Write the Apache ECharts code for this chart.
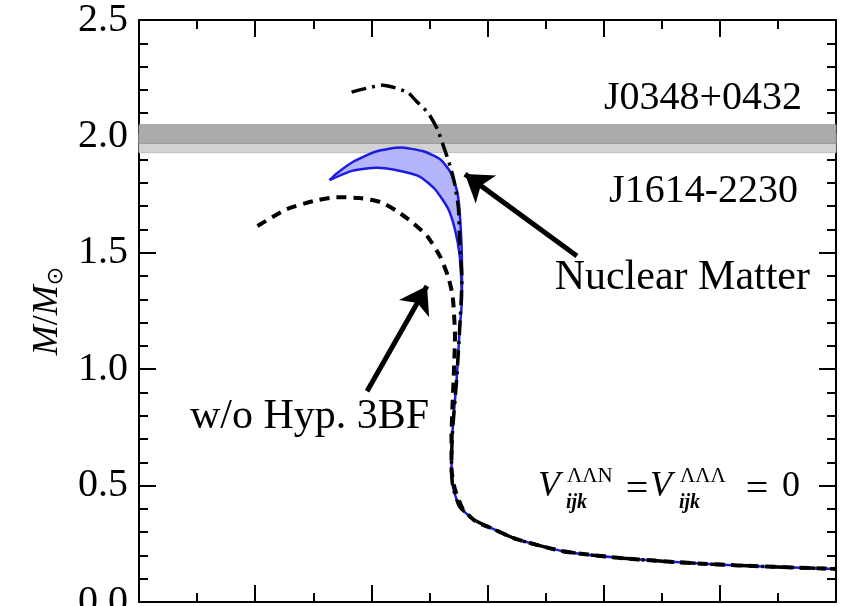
<!DOCTYPE html>
<html><head><meta charset="utf-8">
<script src="https://cdn.jsdelivr.net/npm/echarts@6/dist/echarts.min.js"></script>
<style>html,body{margin:0;padding:0;background:#fff}#c{width:843px;height:606px}</style>
</head><body><div id="c"></div>
<script>
// Radius R (km) and mass M (M_sun)
const nuclearR = [10.83, 11.10, 11.31, 11.39, 11.49, 11.57, 11.62, 11.68, 11.72, 11.75, 11.76, 11.78, 11.76, 11.735, 11.70, 11.69, 11.70, 11.76, 11.88, 12.02, 12.25, 12.65, 13.08, 13.51, 13.94, 14.37, 14.89, 15.0];
const nuclearM = [2.19, 2.22, 2.19, 2.15, 2.10, 2.03, 1.96, 1.87, 1.79, 1.69, 1.55, 1.39, 1.17, 0.96, 0.74, 0.60, 0.50, 0.41, 0.355, 0.32, 0.27, 0.218, 0.192, 0.175, 0.162, 0.153, 0.144, 0.142];

const woR = [10.02, 10.27, 10.50, 10.70, 10.90, 11.08, 11.22, 11.35, 11.48, 11.59, 11.66, 11.70, 11.72, 11.70, 11.69, 11.69, 11.72, 11.79, 11.91, 12.02, 12.25, 12.65, 13.08, 13.51, 13.94, 14.37, 14.89, 15.0];
const woM = [1.615, 1.687, 1.722, 1.739, 1.735, 1.718, 1.679, 1.632, 1.572, 1.486, 1.40, 1.314, 1.142, 0.858, 0.712, 0.570, 0.484, 0.398, 0.342, 0.32, 0.27, 0.218, 0.192, 0.175, 0.162, 0.153, 0.144, 0.142];

const hypUpR = [10.64, 10.70, 10.84, 11.04, 11.25, 11.44, 11.59, 11.68, 11.74, 11.765, 11.78, 11.78];
const hypUpM = [1.812, 1.84, 1.89, 1.935, 1.952, 1.937, 1.903, 1.847, 1.761, 1.645, 1.45, 1.30];
const hypLowR = [10.64, 10.84, 11.05, 11.25, 11.42, 11.55, 11.66, 11.72, 11.76, 11.775, 11.78];
const hypLowM = [1.812, 1.853, 1.865, 1.851, 1.826, 1.772, 1.69, 1.60, 1.49, 1.38, 1.30];
const hypTailR = [11.78, 11.76, 11.735, 11.70, 11.69, 11.70, 11.76, 11.88, 12.02, 12.25, 12.65, 13.08, 13.51, 13.94, 14.37, 14.89, 15.0];
const hypTailM = [1.30, 1.17, 0.96, 0.74, 0.60, 0.50, 0.41, 0.355, 0.32, 0.27, 0.218, 0.192, 0.175, 0.162, 0.153, 0.144, 0.142];

const bandJ0348 = [1.97, 2.05];
const bandJ1614 = [1.93, 2.01];

const yTicks = [0.0, 0.5, 1.0, 1.5, 2.0, 2.5];

const pairs = (xs, ys) => xs.map((x, i) => [x, ys[i]]);
const upper = pairs(hypUpR, hypUpM);
const lower = pairs(hypLowR, hypLowM);
const tail = pairs(hypTailR, hypTailM);

const chart = echarts.init(document.getElementById('c'), null, {renderer: 'canvas'});
const SERIF = "'Liberation Serif', 'Times New Roman', serif";
const tickStyle = {color: '#000', width: 2};
function xAxisDef(pos) {
  return {
    type: 'value', position: pos, min: 9, max: 15, interval: 1,
    axisLine: {show: true, onZero: false, lineStyle: tickStyle},
    axisTick: {show: true, inside: true, length: 17, lineStyle: tickStyle},
    minorTick: {show: true, splitNumber: 2, length: 9, lineStyle: tickStyle},
    axisLabel: {show: false}, splitLine: {show: false}, minorSplitLine: {show: false}
  };
}
function yAxisDef(pos) {
  return {
    type: 'value', position: pos, min: yTicks[0], max: yTicks[yTicks.length - 1], interval: 0.5,
    axisLine: {show: true, onZero: false, lineStyle: tickStyle},
    axisTick: {show: true, inside: true, length: 17, lineStyle: tickStyle},
    minorTick: {show: true, splitNumber: 5, length: 9, lineStyle: tickStyle},
    splitLine: {show: false}, minorSplitLine: {show: false}
  };
}

const textEl = (txt, x, y, font, align) => ({
  type: 'text', x: x, y: y, z: 100,
  style: {text: txt, font: font, fill: '#000', align: align, verticalAlign: 'middle'}
});

const yLeft = yAxisDef('left');
Object.assign(yLeft, {
  name: '{i|M}{n|/}{i|M}{s|⊙}', nameLocation: 'middle', nameGap: 64, nameRotate: 90,
  nameTextStyle: {rich: {
    i: {fontFamily: SERIF, fontStyle: 'italic', fontSize: 36, color: '#000'},
    n: {fontFamily: SERIF, fontSize: 36, color: '#000'},
    s: {fontFamily: 'DejaVu Sans', fontSize: 22, color: '#000', padding: [18, 0, 0, 0]}
  }},
  axisLabel: {show: true, color: '#000', fontFamily: SERIF, fontSize: 40, margin: 11,
    formatter: v => v.toFixed(1)}
});
const yRight = yAxisDef('right');
yRight.axisLabel = {show: false};

chart.setOption({
  animation: false,
  backgroundColor: '#fff',
  grid: {left: 139, right: 7, top: 20, bottom: 4, containLabel: false, outerBoundsMode: 'none'},
  xAxis: [xAxisDef('bottom'), xAxisDef('top')],
  yAxis: [yLeft, yRight],
  series: [
    {type: 'line', data: [], silent: true,
      markArea: {silent: true, itemStyle: {color: '#d2d2d2', borderColor: '#bdbdbd', borderWidth: 1},
        data: [[{yAxis: bandJ1614[0]}, {yAxis: bandJ1614[1]}]]}},
    {type: 'line', data: [], silent: true,
      markArea: {silent: true, itemStyle: {color: '#ababab', borderColor: '#9a9a9a', borderWidth: 1},
        data: [[{yAxis: bandJ0348[0]}, {yAxis: bandJ0348[1]}]]}},
    {type: 'custom', data: [[0, 0]], silent: true, z: 3,
      renderItem: function (params, api) {
        const pts = upper.concat(lower.slice().reverse()).map(p => api.coord(p));
        return {type: 'polygon', shape: {points: pts, smooth: 0.2}, style: {fill: '#b4b4fa', stroke: null}};
      }},
    {type: 'line', data: upper.concat(tail.slice(1)), showSymbol: false, smooth: 0.2, z: 4,
      lineStyle: {color: '#1c1ce0', width: 2.5}},
    {type: 'line', data: lower, showSymbol: false, smooth: 0.2, z: 4,
      lineStyle: {color: '#1c1ce0', width: 2.5}},
    {type: 'line', data: pairs(woR, woM), showSymbol: false, smooth: 0.2, z: 5,
      lineStyle: {color: '#000', width: 4, type: [10, 7]}},
    {type: 'line', data: pairs(nuclearR, nuclearM), showSymbol: false, smooth: 0.2, z: 6,
      lineStyle: {color: '#000', width: 3.5, type: [15, 6, 3, 6]},
      markLine: {silent: true, symbol: ['none', 'arrow'], symbolSize: 26,
        lineStyle: {color: '#000', width: 5, type: 'solid'}, label: {show: false},
        data: [
          [{coord: [12.77, 1.486]}, {coord: [11.806, 1.838]}],
          [{coord: [10.963, 0.905]}, {coord: [11.479, 1.357]}]
        ]}}
  ],
  graphic: [
    textEl('J0348+0432', 802, 98, '40px ' + SERIF, 'right'),
    textEl('J1614-2230', 798, 191, '40px ' + SERIF, 'right'),
    textEl('Nuclear Matter', 810, 278, '42px ' + SERIF, 'right'),
    textEl('w/o Hyp. 3BF', 190, 417, '42px ' + SERIF, 'left'),
    textEl('V', 538, 487, 'italic 36px ' + SERIF, 'left'),
    textEl('ΛΛN', 567, 476, '21px ' + SERIF, 'left'),
    textEl('ijk', 566, 503, 'italic bold 20px ' + SERIF, 'left'),
    textEl('=', 637, 490, '40px ' + SERIF, 'center'),
    textEl('V', 650, 487, 'italic 36px ' + SERIF, 'left'),
    textEl('ΛΛΛ', 680, 476, '21px ' + SERIF, 'left'),
    textEl('ijk', 679, 503, 'italic bold 20px ' + SERIF, 'left'),
    textEl('=', 757, 490, '40px ' + SERIF, 'center'),
    textEl('0', 782, 487, '36px ' + SERIF, 'left')
  ]
});
</script>
</body></html>
